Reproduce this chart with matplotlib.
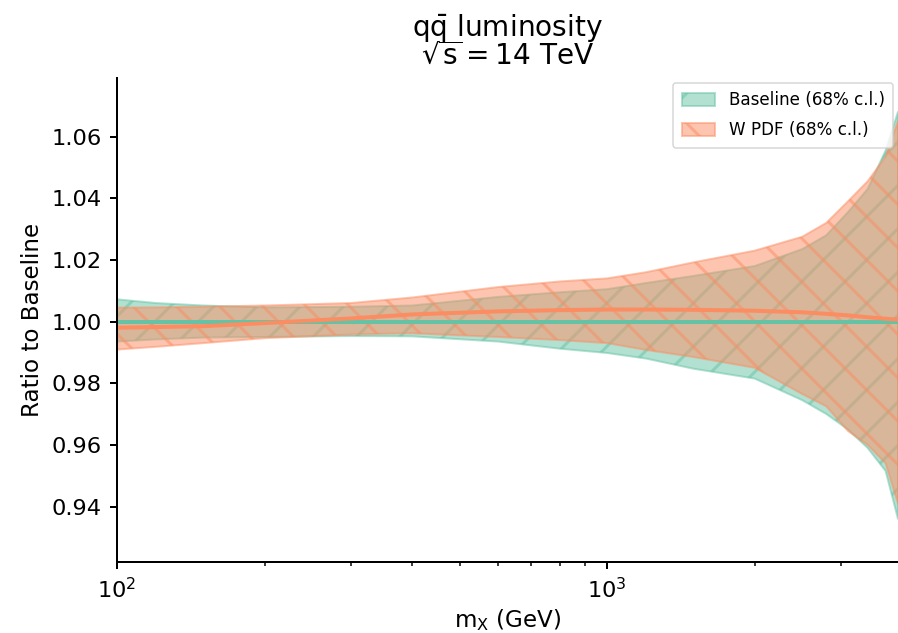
import matplotlib
matplotlib.use("Agg")
import matplotlib.pyplot as plt
import numpy as np

# invariant mass grid (GeV)
mx = [100, 120, 150, 200, 300, 400, 600, 800, 1000, 1200, 1500, 2000,
      2500, 2800, 3100, 3400, 3700, 3921]

# Baseline 68% c.l. band (ratio to baseline)
base_hi = [1.0072, 1.0060, 1.0052, 1.0046, 1.0048, 1.0052, 1.0080, 1.0095,
           1.0105, 1.0125, 1.0148, 1.0180, 1.0235, 1.0280, 1.0355, 1.0430,
           1.0555, 1.0680]
base_lo = [0.9935, 0.9942, 0.9948, 0.9950, 0.9953, 0.9952, 0.9935, 0.9912,
           0.9898, 0.9880, 0.9847, 0.9815, 0.9745, 0.9700, 0.9650, 0.9590,
           0.9515, 0.9360]
base_cv = [1.0] * len(mx)

# W PDF 68% c.l. band
w_hi = [1.0045, 1.0046, 1.0048, 1.0052, 1.0060, 1.0078, 1.0112, 1.0130,
        1.0140, 1.0160, 1.0192, 1.0230, 1.0275, 1.0320, 1.0390, 1.0455,
        1.0535, 1.0650]
w_lo = [0.9909, 0.9918, 0.9930, 0.9946, 0.9958, 0.9962, 0.9950, 0.9940,
        0.9930, 0.9908, 0.9885, 0.9850, 0.9765, 0.9725, 0.9645, 0.9600,
        0.9540, 0.9410]
w_cv = [0.9980, 0.9982, 0.9985, 0.9995, 1.0010, 1.0023, 1.0033, 1.0037,
        1.0039, 1.0039, 1.0038, 1.0035, 1.0030, 1.0025, 1.0020, 1.0014,
        1.0009, 1.0006]

yticks = [0.94, 0.96, 0.98, 1.00, 1.02, 1.04, 1.06]

green = '#66c2a5'
orange = '#fc8d62'

dpi = 260
pt = 72.0 / dpi  # points per pixel

plt.rcParams['mathtext.default'] = 'regular'
plt.rcParams['hatch.linewidth'] = 3.0 * pt
plt.rcParams['axes.linewidth'] = 2.0 * pt

fig = plt.figure(figsize=(898 / dpi, 633 / dpi), dpi=dpi)
ax = fig.add_axes([117 / 898, 1 - 562 / 633, 1 - 117 / 898, (562 - 78) / 633])

ax.fill_between(mx, base_lo, base_hi, facecolor=green, edgecolor=green,
                alpha=0.5, hatch='//', linewidth=2.0 * pt,
                label='Baseline (68% c.l.)')
ax.fill_between(mx, w_lo, w_hi, facecolor=orange, edgecolor=orange,
                alpha=0.5, hatch='\\\\', linewidth=2.0 * pt,
                label='W PDF (68% c.l.)')
ax.plot(mx, base_cv, color=green, lw=4.0 * pt)
ax.plot(mx, w_cv, color=orange, lw=4.0 * pt)

ax.set_xscale('log')
ax.set_xlim(100, 3921)
ax.set_ylim(0.922, 1.079)
ax.set_yticks(yticks)
ax.set_yticklabels(['%.2f' % v for v in yticks])

ax.spines['top'].set_visible(False)
ax.spines['right'].set_visible(False)
ax.tick_params(which='major', length=7 * pt, width=2 * pt, labelsize=22.5 * pt, pad=8 * pt)
ax.tick_params(which='minor', length=4 * pt, width=1.5 * pt)

ax.set_xlabel('$m_X$ (GeV)', fontsize=23 * pt, labelpad=5 * pt)
ax.set_ylabel('Ratio to Baseline', fontsize=23 * pt, labelpad=8 * pt)
ax.set_title('$q\\bar{q}$ luminosity\n$\\sqrt{s}=14$ TeV', fontsize=28 * pt, pad=14 * pt,
             linespacing=0.9)

leg = ax.legend(loc='upper right', fontsize=16.8 * pt, framealpha=0.8,
                labelspacing=0.7, handlelength=2.0, handleheight=0.8,
                borderpad=0.5, borderaxespad=0.3)
leg.get_frame().set_linewidth(1.5 * pt)

fig.savefig('out.png', dpi=dpi)
